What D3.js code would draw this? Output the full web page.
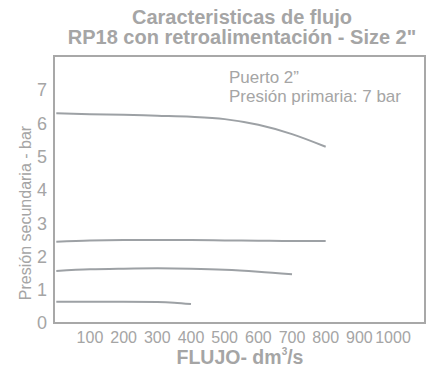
<!DOCTYPE html>
<html><head><meta charset="utf-8">
<script src="https://cdn.jsdelivr.net/npm/d3@7/dist/d3.min.js"></script>
<style>body{margin:0;background:#fff;}svg{display:block;font-family:"Liberation Sans",Arial,sans-serif;}</style>
</head><body>
<svg id="c" width="429" height="369"></svg>
<script>
const titleLines = ["Caracteristicas de flujo", "RP18 con retroalimentación - Size 2\""];
const yLabel = "Presión secundaria - bar";
const xLabelMain = "FLUJO- dm";
const xLabelSup = "3";
const xLabelEnd = "/s";
const noteLines = ["Puerto 2\u201d", "Presión primaria: 7 bar"];
const xTicks = [100, 200, 300, 400, 500, 600, 700, 800, 900, 1000];
const yTicks = [0, 1, 2, 3, 4, 5, 6, 7];
const flow1 = [0, 100, 200, 300, 400, 500, 600, 700, 800];
const p1 = [6.30, 6.27, 6.25, 6.22, 6.19, 6.12, 5.95, 5.67, 5.29];
const flow2 = [0, 100, 200, 300, 400, 500, 600, 700, 800];
const p2 = [2.44, 2.48, 2.49, 2.49, 2.49, 2.48, 2.47, 2.46, 2.46];
const flow3 = [0, 100, 200, 300, 400, 500, 600, 700];
const p3 = [1.56, 1.61, 1.63, 1.64, 1.63, 1.60, 1.54, 1.46];
const flow4 = [0, 100, 200, 300, 350, 400];
const p4 = [0.64, 0.64, 0.64, 0.63, 0.61, 0.57];

const series = [[flow1, p1], [flow2, p2], [flow3, p3], [flow4, p4]];
const svg = d3.select("#c");
const txt = "#a5a5a5";
const x = d3.scaleLinear().domain([0, 1100]).range([56.3, 426.7]);
const y = d3.scaleLinear().domain([0, 8.0]).range([323, 56.5]);
const L = 54, R = 425, T = 56, B = 323;

// title
svg.append("g").selectAll("text").data(titleLines).join("text")
  .attr("x", 242).attr("y", (d, i) => 24 + i * 20)
  .attr("text-anchor", "middle").attr("font-size", 20).attr("font-weight", "bold")
  .attr("fill", txt).text(d => d);

// box
svg.append("rect").attr("x", L).attr("y", T).attr("width", R - L).attr("height", B - T)
  .attr("fill", "none").attr("stroke", "#a8a8a8").attr("stroke-width", 2);

// y ticks
svg.append("g").selectAll("text").data(yTicks).join("text")
  .attr("x", 42).attr("y", d => y(d)).attr("dy", "0.36em")
  .attr("text-anchor", "middle").attr("font-size", 18).attr("fill", txt).text(d => d);

// x ticks
svg.append("g").selectAll("text").data(xTicks).join("text")
  .attr("x", d => x(d)).attr("y", 343)
  .attr("text-anchor", "middle").attr("font-size", 16).attr("fill", txt).text(d => d);

// y label
svg.append("text").attr("transform", "translate(31,213) rotate(-90)")
  .attr("text-anchor", "middle").attr("font-size", 16).attr("fill", txt).text(yLabel);

// x label
const xl = svg.append("text").attr("x", 240).attr("y", 364).attr("text-anchor", "middle")
  .attr("font-size", 19.5).attr("font-weight", "bold").attr("fill", txt);
xl.append("tspan").text(xLabelMain);
xl.append("tspan").attr("font-size", 10).attr("dy", -9).text(xLabelSup);
xl.append("tspan").attr("dy", 9).text(xLabelEnd);

// note
svg.append("g").selectAll("text").data(noteLines).join("text")
  .attr("x", 229).attr("y", (d, i) => 83 + i * 18.5)
  .attr("font-size", 17).attr("fill", txt).text(d => d);

// lines
const line = d3.line().x(d => x(d[0])).y(d => y(d[1])).curve(d3.curveMonotoneX);
svg.append("g").selectAll("path").data(series).join("path")
  .attr("d", s => line(s[0].map((f, i) => [f, s[1][i]])))
  .attr("fill", "none").attr("stroke", "#9da1a5").attr("stroke-width", 2);
</script>
</body></html>
